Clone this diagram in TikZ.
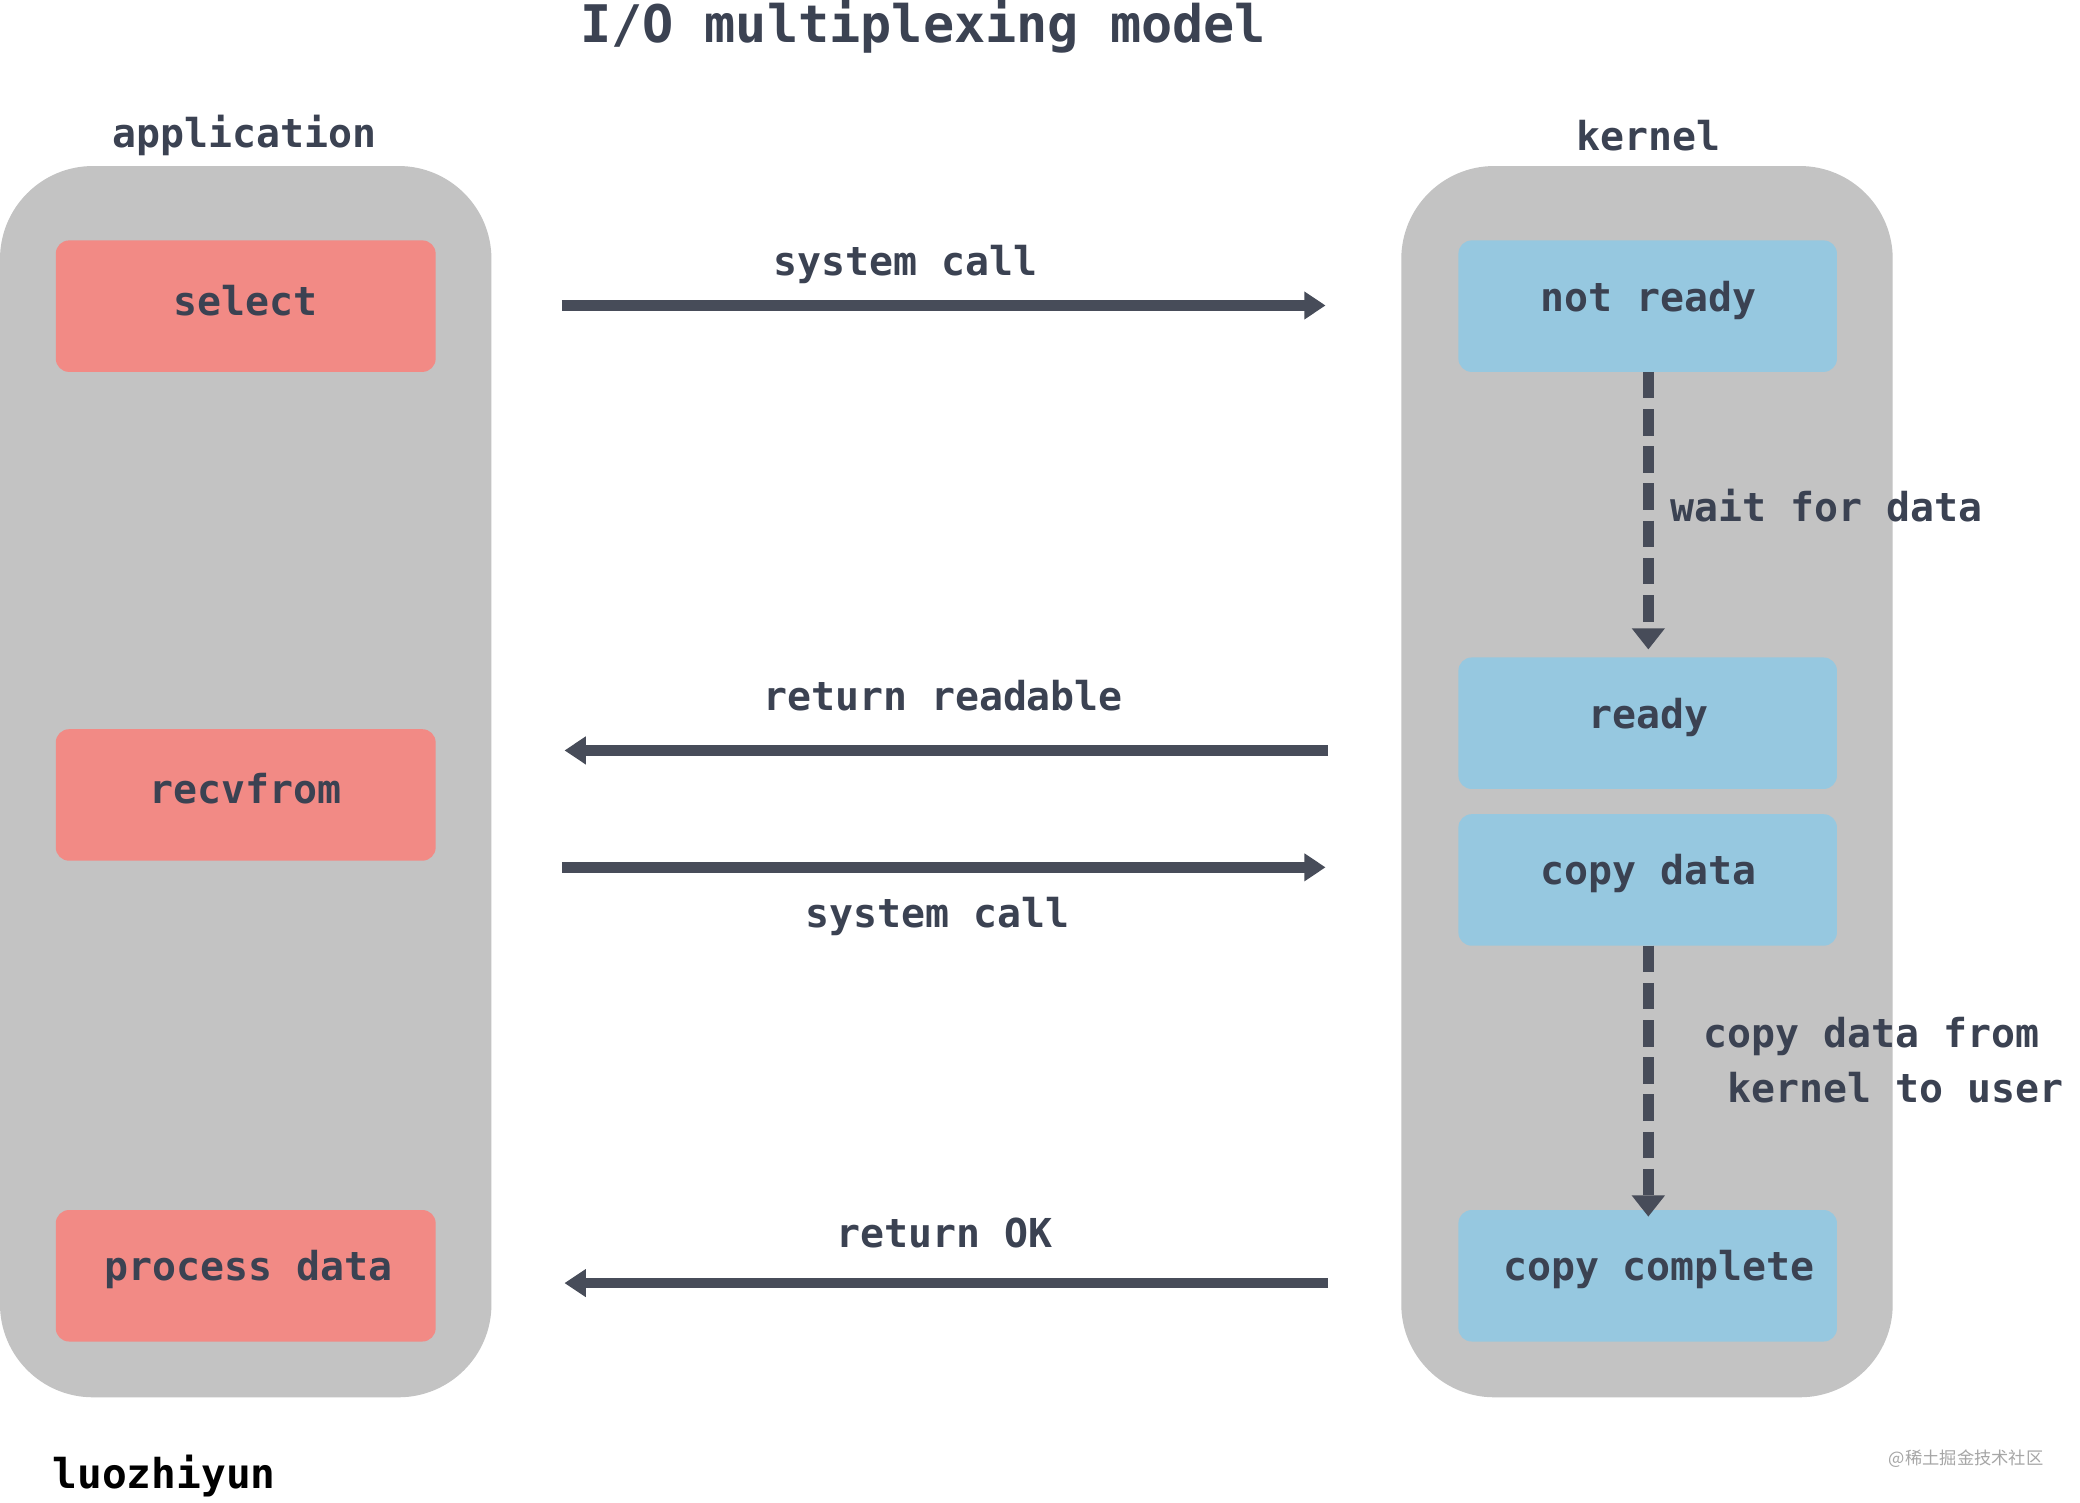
\documentclass[tikz,border=0pt]{standalone}
\usepackage{fontspec}
\setmonofont{DejaVu Sans Mono}
\newfontfamily\cjk{Noto Sans CJK SC}
\usetikzlibrary{arrows.meta}
\definecolor{panel}{HTML}{C3C3C3}
\definecolor{redb}{HTML}{F28A85}
\definecolor{blueb}{HTML}{96C8E0}
\definecolor{dark}{HTML}{474C59}
\definecolor{txt}{HTML}{3B4252}
\begin{document}
\begin{tikzpicture}[x=1pt,y=-1pt,
  lbl/.style={font=\ttfamily\bfseries\fontsize{30}{36}\selectfont,text=txt},
  panelbox/.style={fill=panel,rounded corners=70pt},
  rbox/.style={fill=redb,rounded corners=10pt},
  bbox/.style={fill=blueb,rounded corners=10pt},
  arr/.style={draw=dark,line width=8pt,-{Triangle[length=16pt,width=20pt]}},
  darr/.style={draw=dark,line width=8pt,dash pattern=on 20pt off 8pt,-{Triangle[length=16pt,width=24pt]}}]
\useasboundingbox[fill=white] (0,0) rectangle (1566,1131);
\fill[panelbox] (0,125) rectangle (370,1052);
\fill[panelbox] (1055,125) rectangle (1425,1052);
\fill[rbox] (42,181) rectangle (328,280);
\fill[rbox] (42,549) rectangle (328,648);
\fill[rbox] (42,911) rectangle (328,1010);
\fill[bbox] (1098,181) rectangle (1383,280);
\fill[bbox] (1098,495) rectangle (1383,594);
\fill[bbox] (1098,613) rectangle (1383,712);
\fill[bbox] (1098,911) rectangle (1383,1010);
\node[lbl] (sel) at (185,226) {select};
\node[lbl] (rcv) at (185,594) {recvfrom};
\node[lbl] (proc) at (187,956) {process data};
\node[lbl] (nr) at (1241,226) {not ready};
\node[lbl] (rd) at (1241,540) {ready};
\node[lbl] (cd) at (1241,658) {copy data};
\node[lbl] (cc) at (1249,956) {copy complete};
\node[lbl,font=\ttfamily\bfseries\fontsize{39}{44}\selectfont] (title) at (695,20) {I/O multiplexing model};
\node[lbl] (app) at (184,102) {application};
\node[lbl] (ker) at (1241,102) {kernel};
\coordinate (a1s) at (423,230); \coordinate (a1e) at (998,230);
\coordinate (a2s) at (1000,565); \coordinate (a2e) at (425,565);
\coordinate (a3s) at (423,653); \coordinate (a3e) at (998,653);
\coordinate (a4s) at (1000,966); \coordinate (a4e) at (425,966);
\draw[arr] (a1s) -- (a1e);
\draw[arr] (a2s) -- (a2e);
\draw[arr] (a3s) -- (a3e);
\draw[arr] (a4s) -- (a4e);
\node[lbl] (l1) at (682,199) {system call};
\node[lbl] (l2) at (710,524) {return readable};
\node[lbl] (l3) at (706,690) {system call};
\node[lbl] (l4) at (711,928) {return OK};
\coordinate (d1s) at (1241,280); \coordinate (d1e) at (1241,489);
\coordinate (d2s) at (1241,712); \coordinate (d2e) at (1241,916);
\draw[darr] (d1s) -- (d1e);
\draw[darr] (d2s) -- (d2e);
\node[lbl,anchor=west] (w) at (1254,381) {wait for data};
\node[lbl,anchor=west] (cf1) at (1279,780) {copy data from};
\node[lbl,anchor=west] (cf2) at (1297,819) {kernel to user};
\node[font=\ttfamily\bfseries\fontsize{31}{36}\selectfont,anchor=west] (luo) at (36,1111) {luozhiyun};
\node[font=\cjk\fontsize{13}{15}\selectfont,text=gray!70,anchor=east] (wm) at (1542,1098) {@稀土掘金技术社区};
\end{tikzpicture}
\end{document}
